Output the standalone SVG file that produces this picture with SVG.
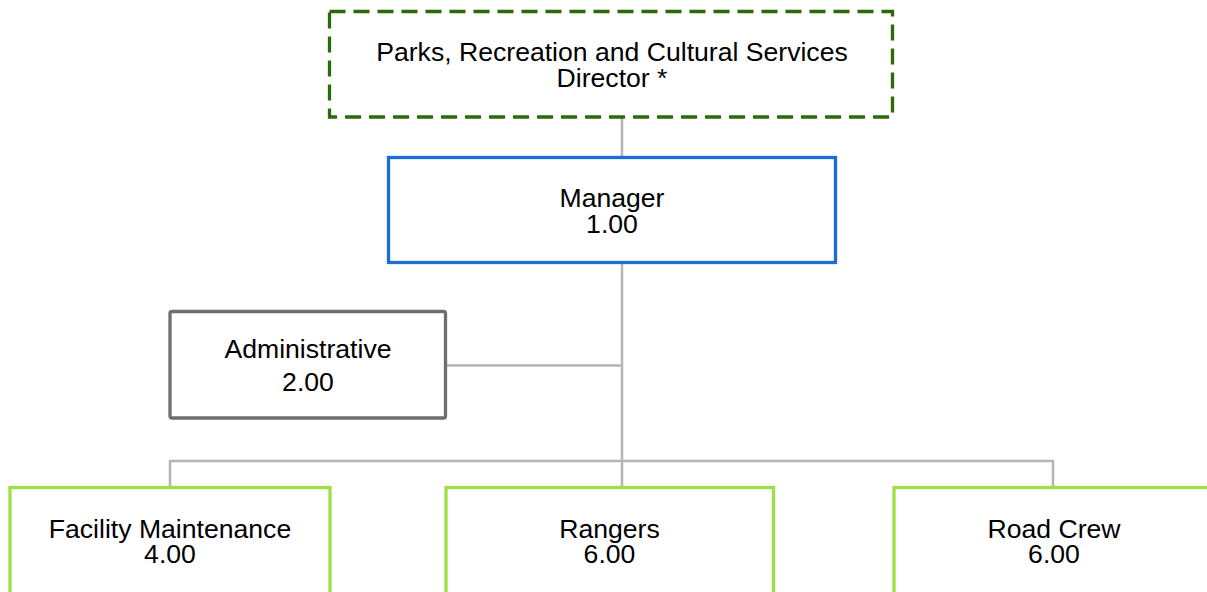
<svg xmlns="http://www.w3.org/2000/svg" width="1207" height="592" viewBox="0 0 1207 592">
<style>
text{font-family:"Liberation Sans",Arial,sans-serif;font-size:26.6px;fill:#000;text-anchor:middle}
.box{fill:#fff;stroke-width:3.3}
.dir{stroke:#2b6a0a;stroke-dasharray:16 8}
.mgr{stroke:#1c6fd2}
.adm{stroke:#6e6e6e}
.unit{stroke:#9ddf45}
.conn{fill:none;stroke:#b5b5b5;stroke-width:2.5}
</style>
<rect width="1207" height="592" fill="#fff"/>
<g id="connectors">
<path class="conn" d="M622,117V157M622,263V487M447,365.5H622M170,487V461H1053V487"/>
</g>
<g id="director">
<rect class="box dir" x="329.5" y="11.5" width="563" height="105.5"/>
<text x="612" y="61">Parks, Recreation and Cultural Services</text>
<text x="612" y="87">Director *</text>
</g>
<g id="manager">
<rect class="box mgr" x="388.5" y="157.5" width="447" height="105"/>
<text x="612" y="207">Manager</text>
<text x="612" y="233">1.00</text>
</g>
<g id="administrative">
<rect class="box adm" x="170" y="311.5" width="275.5" height="106.5" rx="2"/>
<text x="308" y="358">Administrative</text>
<text x="308" y="391">2.00</text>
</g>
<g id="facility">
<rect class="box unit" x="10" y="487.5" width="320" height="120"/>
<text x="170" y="538">Facility Maintenance</text>
<text x="170" y="563">4.00</text>
</g>
<g id="rangers">
<rect class="box unit" x="446" y="487.5" width="327.5" height="120"/>
<text x="609.5" y="538">Rangers</text>
<text x="609.5" y="563">6.00</text>
</g>
<g id="roadcrew">
<rect class="box unit" x="894" y="487.5" width="320" height="120"/>
<text x="1054" y="538">Road Crew</text>
<text x="1054" y="563">6.00</text>
</g>
</svg>
